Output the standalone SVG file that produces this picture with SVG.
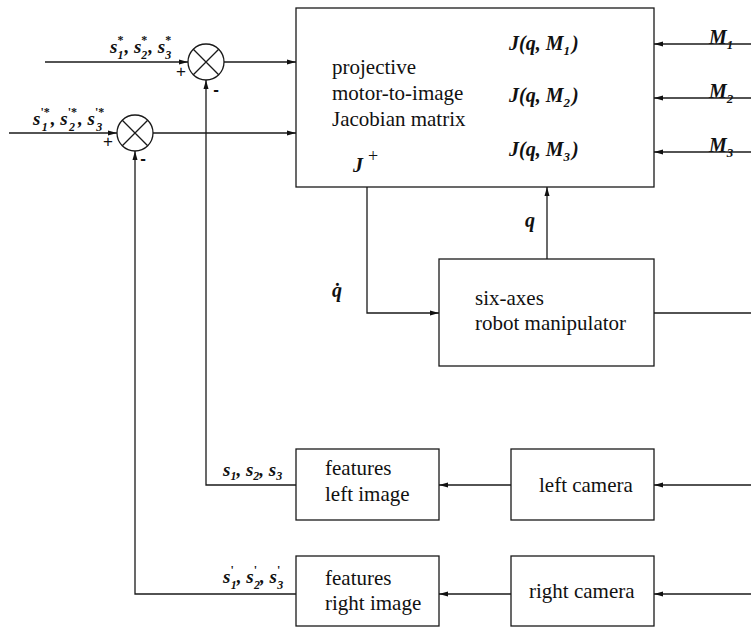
<svg xmlns="http://www.w3.org/2000/svg" width="751" height="628" viewBox="0 0 751 628">
<style>
.ln{stroke:#1a1a1a;stroke-width:1.3;fill:none}
.box{fill:#fff;stroke:#1a1a1a;stroke-width:1.3}
.t{font-family:"Liberation Serif","Times New Roman",serif;font-size:21px;fill:#111}
.m{font-family:"Liberation Serif","Times New Roman",serif;font-size:20px;font-weight:bold;font-style:italic;fill:#111}
.s{font-family:"Liberation Serif","Times New Roman",serif;font-size:19px;font-weight:bold;font-style:italic;fill:#111}
.sb{font-size:12px}
.sp{font-size:12px;font-style:normal}
.sg{font-family:"Liberation Sans",Arial,sans-serif;font-size:17px;fill:#111}
</style>
<defs>
<marker id="ar" markerWidth="10" markerHeight="6" refX="9" refY="3" orient="auto" markerUnits="userSpaceOnUse">
<path d="M0,0.5 L9,3 L0,5.5 z" fill="#111"/>
</marker>
</defs>
<rect width="751" height="628" fill="#fff"/>

<g id="jacobian">
<rect class="box" x="296" y="8" width="358" height="179"/>
<text class="t" x="332" y="74">projective</text>
<text class="t" x="332" y="100">motor-to-image</text>
<text class="t" x="332" y="126">Jacobian matrix</text>
<text class="m" x="509" y="50">J(q, M<tspan font-size="13" dy="5">1</tspan><tspan dy="-5" dx="2">)</tspan></text>
<text class="m" x="509" y="102">J(q, M<tspan font-size="13" dy="5">2</tspan><tspan dy="-5" dx="2">)</tspan></text>
<text class="m" x="509" y="156">J(q, M<tspan font-size="13" dy="5">3</tspan><tspan dy="-5" dx="2">)</tspan></text>
<text class="m" x="353" y="172">J<tspan font-style="normal" font-weight="normal" font-size="18" dx="5" dy="-10">+</tspan></text>
</g>

<g id="robot">
<rect class="box" x="439" y="259" width="215" height="107"/>
<text class="t" x="475" y="305">six-axes</text>
<text class="t" x="475" y="330">robot manipulator</text>
</g>

<g id="features-left">
<rect class="box" x="296" y="449" width="143" height="71"/>
<text class="t" x="325" y="475">features</text>
<text class="t" x="325" y="501">left image</text>
</g>

<g id="left-camera">
<rect class="box" x="511" y="449" width="143" height="71"/>
<text class="t" x="539" y="492">left camera</text>
</g>

<g id="features-right">
<rect class="box" x="296" y="556" width="143" height="70"/>
<text class="t" x="325" y="585">features</text>
<text class="t" x="325" y="610">right image</text>
</g>

<g id="right-camera">
<rect class="box" x="511" y="556" width="143" height="70"/>
<text class="t" x="529" y="598">right camera</text>
</g>

<g id="sum1">
<circle class="ln" cx="206" cy="62" r="18"/>
<path class="ln" d="M193.3,49.3 L218.7,74.7 M218.7,49.3 L193.3,74.7"/>
<text class="sg" x="181" y="77" text-anchor="middle">+</text>
<text class="sg" x="216" y="95" text-anchor="middle" font-weight="bold">-</text>
</g>

<g id="sum2">
<circle class="ln" cx="135" cy="133" r="18"/>
<path class="ln" d="M122.3,120.3 L147.7,145.7 M147.7,120.3 L122.3,145.7"/>
<text class="sg" x="108" y="147" text-anchor="middle">+</text>
<text class="sg" x="143" y="164" text-anchor="middle" font-weight="bold">-</text>
</g>

<g id="labels">
<text class="s" x="110" y="53">s<tspan class="sp" dy="-9">*</tspan><tspan class="sb" dx="-6" dy="15">1</tspan><tspan dy="-6" dx="1">, s</tspan><tspan class="sp" dy="-9">*</tspan><tspan class="sb" dx="-6" dy="15">2</tspan><tspan dy="-6" dx="1">, s</tspan><tspan class="sp" dy="-9">*</tspan><tspan class="sb" dx="-6" dy="15">3</tspan></text>
<text class="s" x="33" y="125">s<tspan class="sp" dy="-9">'*</tspan><tspan class="sb" dx="-8" dy="15">1</tspan><tspan dy="-6" dx="3">, s</tspan><tspan class="sp" dy="-9">'*</tspan><tspan class="sb" dx="-8" dy="15">2</tspan><tspan dy="-6" dx="3">, s</tspan><tspan class="sp" dy="-9">'*</tspan><tspan class="sb" dx="-8" dy="15">3</tspan></text>
<text class="s" x="223" y="476">s<tspan class="sb" dy="4">1</tspan><tspan dy="-4">, s</tspan><tspan class="sb" dy="4">2</tspan><tspan dy="-4">, s</tspan><tspan class="sb" dy="4">3</tspan></text>
<text class="s" x="223" y="583">s<tspan class="sp" dy="-9">'</tspan><tspan class="sb" dx="-3" dy="15">1</tspan><tspan dy="-6">, s</tspan><tspan class="sp" dy="-9">'</tspan><tspan class="sb" dx="-3" dy="15">2</tspan><tspan dy="-6">, s</tspan><tspan class="sp" dy="-9">'</tspan><tspan class="sb" dx="-3" dy="15">3</tspan></text>
<text class="m" x="709" y="44">M<tspan font-size="13" dy="5">1</tspan></text>
<text class="m" x="709" y="98">M<tspan font-size="13" dy="5">2</tspan></text>
<text class="m" x="709" y="152">M<tspan font-size="13" dy="5">3</tspan></text>
<text class="m" x="525" y="227">q</text>
<text class="m" x="332" y="297">q&#x307;</text>
</g>

<g id="connectors">
<path class="ln" d="M45,62 H188" marker-end="url(#ar)"/>
<path class="ln" d="M224,62 H296" marker-end="url(#ar)"/>
<path class="ln" d="M9,133 H117" marker-end="url(#ar)"/>
<path class="ln" d="M153,133 H296" marker-end="url(#ar)"/>
<path class="ln" d="M751,44 H654" marker-end="url(#ar)"/>
<path class="ln" d="M751,98 H654" marker-end="url(#ar)"/>
<path class="ln" d="M751,152 H654" marker-end="url(#ar)"/>
<path class="ln" d="M367,187 V313 H439" marker-end="url(#ar)"/>
<path class="ln" d="M547,259 V187" marker-end="url(#ar)"/>
<path class="ln" d="M654,313 H751"/>
<path class="ln" d="M296,485 H206 V80" marker-end="url(#ar)"/>
<path class="ln" d="M296,594 H135 V151" marker-end="url(#ar)"/>
<path class="ln" d="M511,485 H439" marker-end="url(#ar)"/>
<path class="ln" d="M751,485 H654" marker-end="url(#ar)"/>
<path class="ln" d="M511,594 H439" marker-end="url(#ar)"/>
<path class="ln" d="M751,594 H654" marker-end="url(#ar)"/>
</g>
</svg>
